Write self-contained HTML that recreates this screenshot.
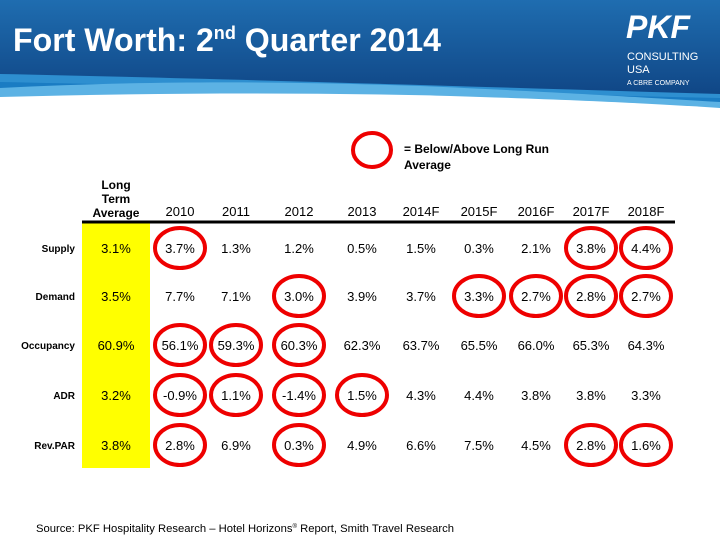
<!DOCTYPE html>
<html><head><meta charset="utf-8"><style>
body{margin:0;width:720px;height:540px;overflow:hidden;background:#fff;font-family:"Liberation Sans",sans-serif;}
svg{display:block}
</style></head><body>
<svg id="s" width="720" height="540" xmlns="http://www.w3.org/2000/svg">
<defs>
<linearGradient id="g1" x1="0" y1="0" x2="0" y2="1"><stop offset="0" stop-color="#1f6db0"/><stop offset="1" stop-color="#0d3f7e"/></linearGradient>
</defs>
<g>
<rect x="0" y="0" width="720" height="112" fill="url(#g1)"/>
<path d="M0,74 C200,78 450,86 720,94 L720,112 L0,112 Z" fill="#2e8fd0"/>
<path d="M0,82 C200,86 450,92 720,98 L720,112 L0,112 Z" fill="#1a7cc3"/>
<path d="M0,88 C120,82 250,80 420,86 C560,92 650,98 720,102 L720,112 L0,112 Z" fill="#5cb2e4"/>
<path d="M0,97 C150,93 300,92 450,96 C580,100 660,104 720,108 L720,112 L0,112 Z" fill="#fff"/>
<rect x="0" y="110" width="720" height="4" fill="#fff"/>
</g>
<text x="13" y="51" font-size="32" font-weight="bold" fill="#fff" textLength="428" lengthAdjust="spacingAndGlyphs">Fort Worth: 2<tspan font-size="18" dy="-12">nd</tspan><tspan dy="12"> Quarter 2014</tspan></text>
<g fill="#fff">
<text x="626" y="38" font-size="32" font-weight="bold" font-style="italic">PKF</text>
<text x="627" y="60" font-size="11">CONSULTING</text>
<text x="627" y="73" font-size="11">USA</text>
<text x="627" y="85" font-size="7">A CBRE COMPANY</text>
</g>
<ellipse cx="372" cy="150" rx="19" ry="17" fill="none" stroke="#e00" stroke-width="4"/>
<text x="404" y="153" font-size="12" font-weight="bold" fill="#000">= Below/Above Long Run</text>
<text x="404" y="169" font-size="12" font-weight="bold" fill="#000">Average</text>
<rect x="82" y="222" width="68" height="246" fill="#ffff00"/>
<line x1="82" y1="222" x2="675" y2="222" stroke="#000" stroke-width="3"/>
<g font-size="12" font-weight="bold" text-anchor="middle" fill="#000">
<text x="116" y="189">Long</text><text x="116" y="203">Term</text><text x="116" y="217">Average</text>
</g>
<g id="tbl"></g>
<text x="36" y="532" font-size="11" fill="#000" textLength="418" lengthAdjust="spacingAndGlyphs">Source: PKF Hospitality Research – Hotel Horizons<tspan font-size="6" dy="-4">®</tspan><tspan dy="4"> Report,  Smith Travel Research</tspan></text>
</svg>
<script>
const years=["2010","2011","2012","2013","2014F","2015F","2016F","2017F","2018F"];
const metrics=["Supply","Demand","Occupancy","ADR","Rev.PAR"];
const longTerm=["3.1%","3.5%","60.9%","3.2%","3.8%"];
const supply=["3.7%","1.3%","1.2%","0.5%","1.5%","0.3%","2.1%","3.8%","4.4%"];
const demand=["7.7%","7.1%","3.0%","3.9%","3.7%","3.3%","2.7%","2.8%","2.7%"];
const occupancy=["56.1%","59.3%","60.3%","62.3%","63.7%","65.5%","66.0%","65.3%","64.3%"];
const adr=["-0.9%","1.1%","-1.4%","1.5%","4.3%","4.4%","3.8%","3.8%","3.3%"];
const revpar=["2.8%","6.9%","0.3%","4.9%","6.6%","7.5%","4.5%","2.8%","1.6%"];
const circled=[[1,0,0,0,0,0,0,1,1],[0,0,1,0,0,1,1,1,1],[1,1,1,0,0,0,0,0,0],[1,1,1,1,0,0,0,0,0],[1,0,1,0,0,0,0,1,1]];
const rows=[supply,demand,occupancy,adr,revpar];
const colX=[180,236,299,362,421,479,536,591,646];
const rowY=[248,296,345,395,445];
const NS="http://www.w3.org/2000/svg";
const g=document.getElementById('tbl');
function t(x,y,s,opts){const e=document.createElementNS(NS,'text');e.setAttribute('x',x);e.setAttribute('y',y);e.setAttribute('font-size',opts.fs||12);e.setAttribute('text-anchor',opts.a||'middle');e.setAttribute('fill','#000');if(opts.b)e.setAttribute('font-weight','bold');e.textContent=s;g.appendChild(e);return e;}
years.forEach((y,i)=>{const e=t(colX[i],216,y,{fs:13});

});
metrics.forEach((m,r)=>{const e=t(75,rowY[r]+4,m,{fs:10,a:'end',b:1});


const l=t(116,rowY[r]+5,longTerm[r],{fs:13});


rows[r].forEach((v,c)=>{
if(circled[r][c]){const el=document.createElementNS(NS,'ellipse');el.setAttribute('cx',colX[c]);el.setAttribute('cy',rowY[r]);el.setAttribute('rx',25);el.setAttribute('ry',20);el.setAttribute('fill','none');el.setAttribute('stroke','#e00');el.setAttribute('stroke-width',4);


g.appendChild(el);}
const e2=t(colX[c],rowY[r]+5,v,{fs:13});

});});
</script>
</body></html>
